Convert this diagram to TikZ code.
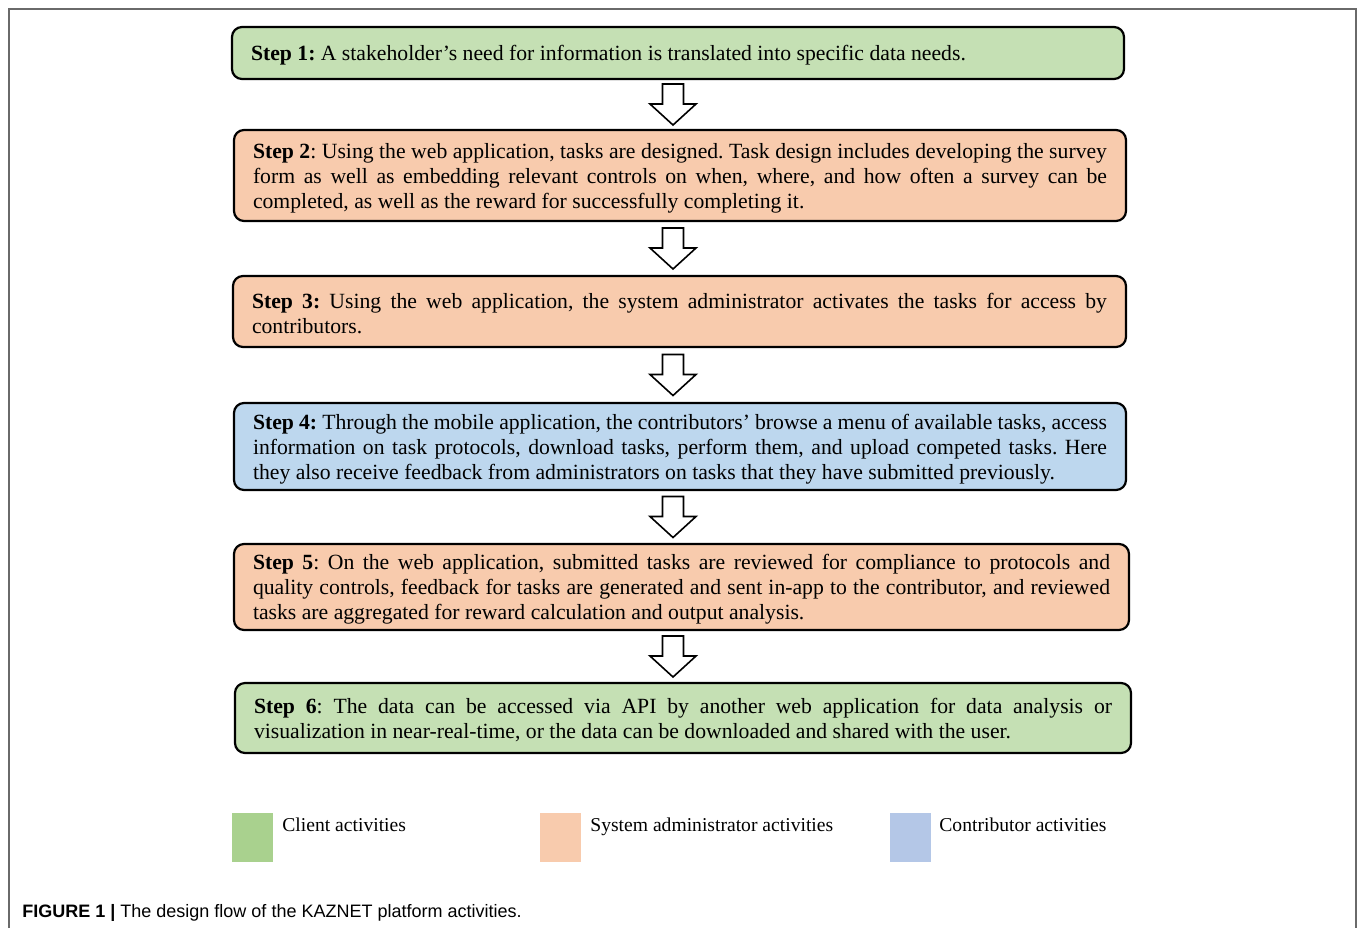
\documentclass[tikz,border=0pt]{standalone}
\usepackage{fontspec}
\setmainfont{Liberation Serif}
\newfontfamily\capfont{Liberation Sans}
\hyphenpenalty=10000
\exhyphenpenalty=10000
\frenchspacing
\definecolor{boxgreen}{HTML}{C5E0B4}
\definecolor{boxorange}{HTML}{F8CBAD}
\definecolor{boxblue}{HTML}{BDD7EE}
\definecolor{leggreen}{HTML}{A9D18E}
\definecolor{legorange}{HTML}{F8CBAD}
\definecolor{legblue}{HTML}{B4C7E7}
\definecolor{framegray}{HTML}{6A6A6A}
\tikzset{
  stepbox/.style={draw=black, line width=1.1pt, rounded corners=5pt, align=justify,
    inner xsep=9.5pt, inner ysep=0pt,
    font=\fontsize{10.85}{12.5}\selectfont,
    execute at begin node={\rule{0pt}{10pt}}},
  legsq/.style={inner sep=0pt, minimum width=20.5pt, minimum height=24.5pt},
  legtext/.style={anchor=base west, inner sep=0pt, font=\fontsize{9.8}{12}\selectfont},
  blockarrow/.pic={
    \draw[line width=0.8pt, fill=white, line join=miter]
      (-10.5,-20.5) -- (-10.5,-0.5) -- (-23,-0.5) -- (0,20.5) -- (23,-0.5)
      -- (10.5,-0.5) -- (10.5,-20.5) -- cycle;
  }
}
\begin{document}
\begin{tikzpicture}[x=0.5pt,y=-0.5pt]
\useasboundingbox (0,0) rectangle (1358,928);
% frame
\draw[framegray, line width=1pt] (8.5,928) -- (8.5,8.5) -- (1356,8.5) -- (1356,928);

% boxes
\node[stepbox, fill=boxgreen, text width=427pt, minimum height=26pt] (b1) at (678,53)
  {\textbf{Step 1:} A stakeholder’s need for information is translated into specific data needs.};
\node[stepbox, fill=boxorange, text width=427pt, minimum height=45.5pt] (b2) at (680,175.5)
  {\textbf{Step 2}: Using the web application, tasks are designed. Task design includes developing the survey\linebreak
   form as well as embedding relevant controls on when, where, and how often a survey can be\linebreak
   completed, as well as the reward for successfully completing it.};
\node[stepbox, fill=boxorange, text width=427.5pt, minimum height=35.5pt] (b3) at (679.5,311.5)
  {\textbf{Step 3:} Using the web application, the system administrator activates the tasks for access by\linebreak
   contributors.};
\node[stepbox, fill=boxblue, text width=427pt, minimum height=43.5pt] (b4) at (680,446.5)
  {\textbf{Step 4:} Through the mobile application, the contributors’ browse a menu of available tasks, access\linebreak
   information on task protocols, download tasks, perform them, and upload competed tasks. Here\linebreak
   they also receive feedback from administrators on tasks that they have submitted previously.};
\node[stepbox, fill=boxorange, text width=428.5pt, minimum height=43pt] (b5) at (681.5,587)
  {\textbf{Step 5}: On the web application, submitted tasks are reviewed for compliance to protocols and\linebreak
   quality controls, feedback for tasks are generated and sent in-app to the contributor, and reviewed\linebreak
   tasks are aggregated for reward calculation and output analysis.};
\node[stepbox, fill=boxgreen, text width=429pt, minimum height=35pt] (b6) at (683,718)
  {\textbf{Step 6}: The data can be accessed via API by another web application for data analysis or\linebreak
   visualization in near-real-time, or the data can be downloaded and shared with the user.};

% arrows
\coordinate (ax) at (673,0);
\path (b1.south) -- (b2.north) coordinate[midway] (m1);
\path (b2.south) -- (b3.north) coordinate[midway] (m2);
\path (b3.south) -- (b4.north) coordinate[midway] (m3);
\path (b4.south) -- (b5.north) coordinate[midway] (m4);
\path (b5.south) -- (b6.north) coordinate[midway] (m5);
\foreach \m in {m1,m2,m3,m4,m5} { \pic at (ax |- \m) {blockarrow}; }

% legend
\node[legsq, fill=leggreen] (lg) at (252.5,837.5) {};
\node[legtext] (lgt) at (282,831) {Client activities};
\node[legsq, fill=legorange] (lo) at (560.5,837.5) {};
\node[legtext] (lot) at (590,831) {System administrator activities};
\node[legsq, fill=legblue] (lb) at (910,837.5) {};
\node[legtext] (lbt) at (939,831) {Contributor activities};

% caption
\node[anchor=base west, inner sep=0pt, font=\capfont\fontsize{9}{11}\selectfont] (cap) at (22,917)
  {\textbf{FIGURE 1 |} The design flow of the KAZNET platform activities.};
\end{tikzpicture}
\end{document}
